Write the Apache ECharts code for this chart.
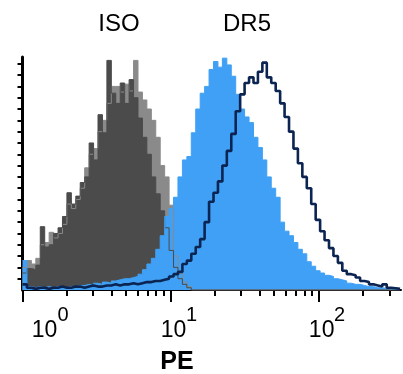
<!DOCTYPE html>
<html><head><meta charset="utf-8">
<script src="https://cdn.jsdelivr.net/npm/echarts@6/dist/echarts.min.js"></script>
<style>html,body{margin:0;padding:0;background:#fff}#c{width:403px;height:374px}</style>
</head><body><div id="c"></div>
<script>
// bin left edges, log10(PE)
const binLog = [0,0.03,0.06,0.09,0.12,0.15,0.18,0.21,0.24,0.27,0.30,0.33,0.36,0.39,0.42,0.45,0.48,0.51,0.54,0.57,
0.60,0.63,0.66,0.69,0.72,0.75,0.78,0.81,0.84,0.87,0.90,0.93,0.96,0.99,1.02,1.05,1.08,1.11,1.14,1.17,
1.20,1.23,1.26,1.29,1.32,1.35,1.38,1.41,1.44,1.47,1.50,1.53,1.56,1.59,1.62,1.65,1.68,1.71,1.74,1.77,
1.80,1.83,1.86,1.89,1.92,1.95,1.98,2.01,2.04,2.07,2.10,2.13,2.16,2.19,2.22,2.25,2.28,2.31,2.34,2.37,
2.40,2.43,2.46,2.49,2.52,2.55];
const isoLight = [2.0,2.6,2.3,2.8,4.0,4.2,5.1,4.6,5.0,5.8,7.6,7.2,8.0,9.0,10.8,12.0,12.5,14.0,15.0,16.5,
18.0,18.0,17.5,18.2,17.6,20.3,17.5,16.8,16.0,15.0,13.5,11.0,10.0,7.5,3.0,1.5,0.7,0.3,0,0,
0,0,0,0,0,0,0,0,0,0,0,0,0,0,0,0,0,0,0,0,0,0,0,0,0,0,0,0,0,0,0,0,0,0,0,0,0,0,0,0,0,0,0,0,0,0];
const isoDark = [1.5,1.9,1.8,2.2,5.6,3.8,4.0,5.0,5.5,6.5,8.6,7.6,8.3,9.5,10.0,13.0,11.5,15.5,13.9,20.3,
17.4,16.5,18.3,16.5,18.6,17.0,15.2,13.5,12.0,10.0,8.5,7.0,5.5,3.5,2.0,1.0,0.5,0.2,0,0,
0,0,0,0,0,0,0,0,0,0,0,0,0,0,0,0,0,0,0,0,0,0,0,0,0,0,0,0,0,0,0,0,0,0,0,0,0,0,0,0,0,0,0,0,0,0];
const dr5Fill = [2.6,0.3,0.2,0.3,0.2,0.3,0.2,0.3,0.3,0.2,0.3,0.3,0.4,0.4,0.5,0.4,0.6,0.5,0.7,0.6,
0.8,0.9,1.0,1.0,1.1,1.2,1.4,1.8,2.3,2.8,3.6,4.8,6.5,7.2,8.2,10.0,11.5,11.8,13.9,16.0,
17.4,18.0,19.5,20.2,19.7,20.5,19.9,18.9,17.3,16.0,15.3,14.8,13.5,12.6,11.5,10.0,9.0,8.2,6.0,5.2,
4.8,4.2,3.6,3.2,2.5,2.1,1.7,1.5,1.3,1.2,1.0,0.9,0.8,0.6,0.5,0.5,0.4,0.3,0.3,0.2,
0.2,0.15,0.1,0.1,0.05,0];
const dr5Line = [0.5,0.2,0.1,0.2,0.2,0.1,0.2,0.2,0.3,0.2,0.2,0.3,0.3,0.2,0.3,0.4,0.3,0.3,0.4,0.4,
0.5,0.4,0.5,0.5,0.6,0.5,0.6,0.7,0.7,0.8,0.8,0.9,1.0,1.2,1.4,1.6,2.3,2.6,3.2,3.8,
4.5,6.0,7.8,8.6,9.6,11.0,12.3,13.8,15.8,17.3,18.3,18.8,18.3,19.3,20.1,18.8,18.3,17.6,16.5,15.3,
14.0,12.5,11.2,10.0,9.0,7.6,6.2,5.2,4.4,3.7,3.0,2.4,1.7,1.4,1.3,1.1,0.8,0.7,0.5,0.4,
0.3,0.5,0.2,0.15,0.1,0.05];
const majorTicks = [1, 10, 100];
const minorTicks = [2,3,4,5,6,7,8,9,20,30,40,50,60,70,80,90,200,300];
const yTicks = [1,2,3,4,5,6,7,8,9,10,11,12,13,14,15,16,17,18,19,20];
const topLabels = ['ISO', 'DR5'];
const axisTitle = 'PE';

const FONT = '"Liberation Sans", Arial, sans-serif';
function pairs(vals) {
  return vals.map((v, i) => [Math.pow(10, binLog[i]), v]);
}
function histSeries(vals, color, area) {
  const s = {
    type: 'line', step: 'end', data: pairs(vals), showSymbol: false, symbol: 'none',
    animation: false, silent: true, xAxisIndex: 0, yAxisIndex: 0,
    lineStyle: { color: color, width: area ? 1 : 2.6 }
  };
  if (area) s.areaStyle = { color: color, opacity: 1 };
  return s;
}
const chart = echarts.init(document.getElementById('c'), null, { renderer: 'canvas' });
const xBase = { type: 'log', logBase: 10, min: 1, max: 360, splitLine: { show: false }, gridIndex: 0, position: 'bottom' };
chart.setOption({
  animation: false,
  backgroundColor: '#fff',
  grid: { left: 22.5, right: 2, top: 57, bottom: 84, containLabel: false, outerBoundsMode: 'none' },
  xAxis: [
    Object.assign({}, xBase, {
      axisLine: { show: true, onZero: false, lineStyle: { color: '#000', width: 2 } },
      axisTick: { show: true, customValues: majorTicks, length: 12, lineStyle: { color: '#000', width: 2 } },
      axisLabel: {
        show: true, customValues: majorTicks, margin: 29, color: '#000', fontFamily: FONT,
        formatter: function (v) {
          return Math.round(Math.log10(v)) === 0 ? '{b0|10}' : '{b|10}';
        },
        rich: {
          b: { fontSize: 23, lineHeight: 23, padding: [0, 0, 0, 6], fontFamily: FONT, color: '#000' },
          b0: { fontSize: 23, lineHeight: 23, padding: [0, 0, 0, 44], fontFamily: FONT, color: '#000' }
        }
      }
    }),
    Object.assign({}, xBase, {
      axisLine: { show: false, onZero: false },
      axisTick: { show: true, customValues: minorTicks, length: 6, lineStyle: { color: '#000', width: 2 } },
      axisLabel: {
        show: true, customValues: majorTicks, margin: 15, color: '#000', fontFamily: FONT,
        formatter: function (v) {
          const e = Math.round(Math.log10(v));
          return (e === 0 ? '{s0|' : '{s|') + e + '}';
        },
        rich: {
          s: { fontSize: 20, lineHeight: 20, padding: [0, 0, 0, 42], fontFamily: FONT, color: '#000' },
          s0: { fontSize: 20, lineHeight: 20, padding: [0, 0, 0, 81], fontFamily: FONT, color: '#000' }
        }
      }
    })
  ],
  yAxis: {
    type: 'value', min: 0, max: 20.6,
    splitLine: { show: false },
    axisLine: { show: true, onZero: false, lineStyle: { color: '#000', width: 3 } },
    axisTick: { show: true, customValues: yTicks, length: 5, lineStyle: { color: '#000', width: 2 } },
    axisLabel: { show: false }
  },
  series: [
    histSeries(isoLight, '#8a8a8a', true),
    histSeries(isoDark, '#4b4b4b', true),
    histSeries(dr5Fill, '#3fa0f5', true),
    histSeries(dr5Line, '#0b2452', false)
  ],
  graphic: [
    { type: 'text', x: 119, y: 24, style: { text: topLabels[0], align: 'center', verticalAlign: 'middle', fontSize: 24, fontFamily: FONT, fill: '#000' } },
    { type: 'text', x: 247, y: 24, style: { text: topLabels[1], align: 'center', verticalAlign: 'middle', fontSize: 24, fontFamily: FONT, fill: '#000' } },
    { type: 'text', x: 177, y: 362, style: { text: axisTitle, align: 'center', verticalAlign: 'middle', fontSize: 25, fontWeight: 'bold', fontFamily: FONT, fill: '#000' } }
  ]
});
</script></body></html>
